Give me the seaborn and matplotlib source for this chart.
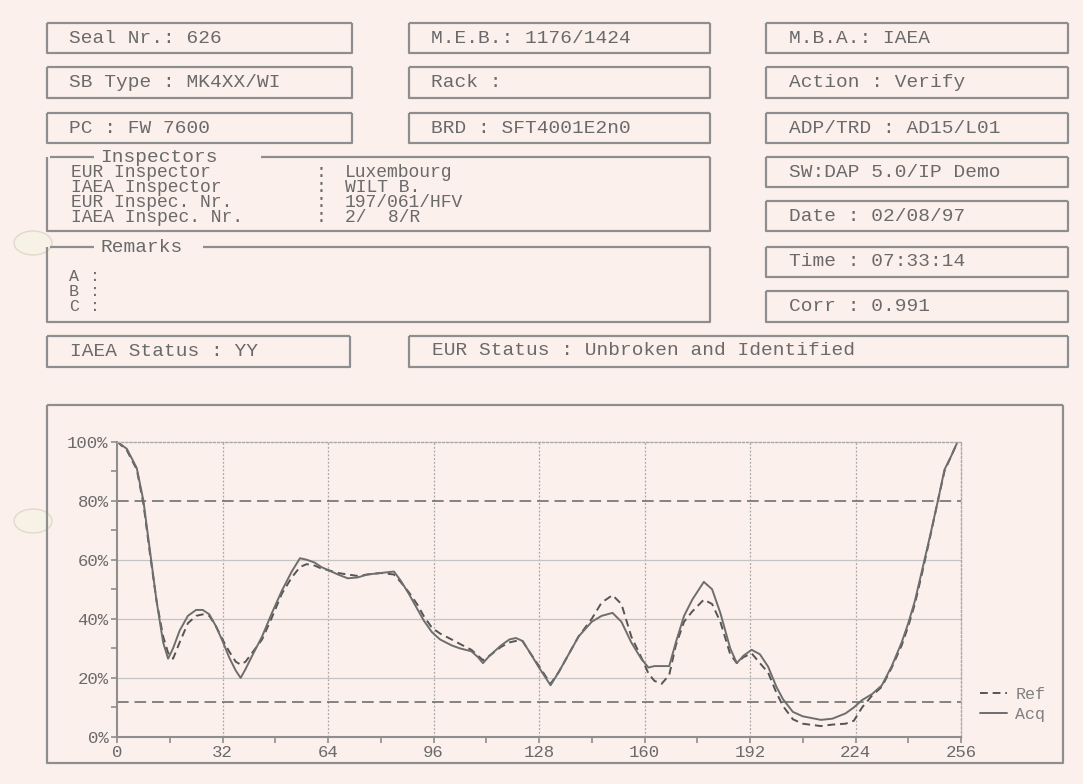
import pandas as pd
import seaborn as sns
import matplotlib.pyplot as plt
from matplotlib.patches import Ellipse
from matplotlib.ticker import MultipleLocator, FuncFormatter

# header fields of the seal report
row_left = ["Seal Nr.: 626", "SB Type : MK4XX/WI", "PC : FW 7600"]
row_mid = ["M.E.B.: 1176/1424", "Rack :", "BRD : SFT4001E2n0"]
row_right = ["M.B.A.: IAEA", "Action : Verify", "ADP/TRD : AD15/L01",
             "SW:DAP 5.0/IP Demo", "Date : 02/08/97", "Time : 07:33:14", "Corr : 0.991"]
inspector_keys = ["EUR Inspector", "IAEA Inspector", "EUR Inspec. Nr.", "IAEA Inspec. Nr."]
inspector_vals = ["Luxembourg", "WILT B.", "197/061/HFV", "2/  8/R"]
remark_keys = ["A", "B", "C"]
iaea_status = "IAEA Status : YY"
eur_status = "EUR Status : Unbroken and Identified"

# signature profile
pos = [0, 3, 6, 8, 10, 12, 14, 15.5, 17, 19, 21.5, 24, 26, 28, 30, 32, 34, 36, 37.5,
       39, 41, 44, 47, 50, 53, 55.5, 57.5, 60, 62, 64, 67, 70, 73, 76, 80, 84, 86,
       88.5, 91, 93, 95.5, 98, 101.5, 104, 107.5, 109.5, 111, 113, 116.5, 119, 121,
       123, 125, 128, 131.5, 134, 137, 140, 144, 147, 150.3, 153, 156, 159, 161.2,
       163, 165.2, 167.5, 169.5, 172, 174.5, 178, 180.5, 183, 186, 188, 190, 192.5,
       195, 197.5, 200, 202, 205, 208, 213.5, 217, 221, 223.5, 226, 229, 232, 235,
       238, 240, 242, 244, 246.5, 249, 251, 253, 255]
acq = [100, 97.5, 91, 80, 63, 46, 32, 26.5, 30, 36, 41, 43, 43, 41.5, 37.5, 32.5, 27,
       22.5, 20, 23, 27.5, 34, 42, 49.5, 56, 60.5, 60, 59, 57.5, 56.5, 55, 53.7, 54,
       55, 55.5, 56, 53, 48.5, 43.5, 39.5, 35.5, 33, 31, 30, 29, 27, 25, 27.5, 31, 33,
       33.5, 32.5, 29, 23.5, 17.5, 22, 28, 34, 39, 41, 42, 39, 32, 26.5, 23.5, 24, 24,
       24, 32, 41, 46.5, 52.5, 50, 42, 30, 25, 27.5, 29.5, 28, 23.8, 17, 12.8, 8.5, 7,
       5.8, 6.2, 8, 10, 12.5, 14.5, 17.5, 24, 32, 38.5, 46, 55.5, 67.5, 80, 90.5, 95,
       100]
ref = [100, 97, 90.5, 79, 62, 46, 34, 28.5, 26.5, 32, 38.5, 41, 41.5, 41, 37.5, 33,
       29, 25.5, 24.5, 25.5, 28.5, 33, 40.5, 48.5, 54, 57.5, 58.5, 58, 57, 56.5, 55.5,
       55, 54.5, 55, 55.5, 55, 52.5, 49, 45, 41, 37, 35, 33, 31.5, 29.5, 27.5, 26,
       27.5, 30.5, 32, 32.5, 32.5, 29, 24, 18, 22, 28, 34, 40, 45.5, 48, 45, 34, 27,
       21.5, 19, 18, 21, 31, 39, 42.5, 46.5, 45, 39, 28, 25, 27, 28.3, 25, 21.8, 15,
       10.5, 6, 4.5, 3.7, 4.2, 4.5, 5.5, 10, 14, 17, 23.5, 31, 37.5, 45, 54.5, 67, 80,
       90, 95, 100]
upper_limit = 80
lower_limit = 12
x_ticks = [0, 32, 64, 96, 128, 160, 192, 224, 256]
y_ticks = [0, 20, 40, 60, 80, 100]

paper = "#fcf0ed"
ink = "#6a6a6a"
frame = "#8e8e8e"
mono = "Liberation Mono"
fs = 14

sns.set_style("white")
plt.rcParams["font.family"] = [mono, "DejaVu Sans Mono"]

fig = plt.figure(figsize=(10.83, 7.84), dpi=100, facecolor=paper)

# page overlay in pixel coordinates
bg = fig.add_axes([0, 0, 1, 1], zorder=0)
bg.set_xlim(0, 1083)
bg.set_ylim(784, 0)
bg.axis("off")
bg.patch.set_alpha(0)


def box(x0, y0, x1, y1, title=None, tx0=None, tx1=None):
    kw = dict(color=frame, lw=1.6, solid_capstyle="butt")
    if title is None:
        bg.plot([x0, x1], [y0, y0], **kw)
    else:
        bg.plot([x0 + 3, tx0 - 6], [y0, y0], **kw)
        bg.plot([tx1 + 6, x1], [y0, y0], **kw)
        bg.text(tx0, y0, title, fontsize=fs, color=ink, va="center", ha="left")
    bg.plot([x1, x1, x0, x0], [y0, y1, y1, y0], **kw)


def field(x, y, s, size=fs):
    bg.text(x, y, s, fontsize=size, color=ink, va="center", ha="left")


rows = [(23, 53), (67, 98), (113, 143)]
for (y0, y1), a, b, c in zip(rows, row_left, row_mid, row_right):
    box(47, y0, 352, y1)
    box(409, y0, 710, y1)
    box(766, y0, 1068, y1)
    yc = (y0 + y1) / 2
    field(69, yc, a)
    field(431, yc, b)
    field(789, yc, c)

right_rows = [(157, 187), (201, 231), (247, 277), (291, 322)]
for (y0, y1), s in zip(right_rows, row_right[3:]):
    box(766, y0, 1068, y1)
    field(789, (y0 + y1) / 2, s)

box(47, 157, 710, 231, "Inspectors", 100, 255)
for i, (k, v) in enumerate(zip(inspector_keys, inspector_vals)):
    yy = 172 + i * 15
    field(71, yy, k, 13)
    field(316, yy, ":", 13)
    field(345, yy, v, 13)

box(47, 247, 710, 322, "Remarks", 100, 197)
for i, k in enumerate(remark_keys):
    yy = 276 + i * 15
    field(69, yy, k, 12)
    field(90, yy, ":", 12)

box(47, 336, 350, 367)
field(70, 351, iaea_status)
box(409, 336, 1068, 367)
field(432, 350, eur_status)

# chart frame
box(47, 405, 1063, 763)

# punch holes from the scan
for yh in (243, 521):
    bg.add_patch(Ellipse((33, yh), 38, 24, facecolor="#f7f2e6", edgecolor="#e0d9cc", lw=1))

# the profile chart
ax = fig.add_axes([117 / 1083, 1 - 737 / 784, 844 / 1083, 295.5 / 784], zorder=2)
ax.patch.set_alpha(0)

n = len(pos)
df = pd.DataFrame({
    "pos": pos + pos,
    "value": acq + ref,
    "series": ["Acq"] * n + ["Ref"] * n,
})

sns.lineplot(data=df, x="pos", y="value", hue="series", style="series",
             hue_order=["Ref", "Acq"], style_order=["Ref", "Acq"],
             palette={"Ref": "#555555", "Acq": "#6e6e6e"},
             dashes={"Ref": (4, 2.5), "Acq": ""}, linewidth=1.4,
             sort=False, ax=ax)

ax.set_xlim(0, 256)
ax.set_ylim(0, 100)

# grid, limits
for xv in x_ticks[1:-1]:
    ax.axvline(xv, color="#a8a8a8", lw=0.9, ls=(0, (1.5, 1.5)), zorder=0)
for yv in [20, 40, 60]:
    ax.axhline(yv, color="#c4c4c4", lw=0.9, zorder=0)
ax.axhline(upper_limit, color="#707070", lw=1.2, ls=(0, (7, 3.5)), zorder=1)
ax.axhline(lower_limit, color="#707070", lw=1.2, ls=(0, (7, 3.5)), zorder=1)

for side in ["left", "bottom"]:
    ax.spines[side].set_color(frame)
    ax.spines[side].set_linewidth(1.5)
for side in ["top", "right"]:
    ax.spines[side].set_color("#a8a8a8")
    ax.spines[side].set_linewidth(1.0)
    ax.spines[side].set_linestyle((0, (1.5, 1.5)))

ax.set_xticks(x_ticks)
ax.set_yticks(y_ticks)
ax.xaxis.set_minor_locator(MultipleLocator(16))
ax.yaxis.set_minor_locator(MultipleLocator(10))
ax.yaxis.set_major_formatter(FuncFormatter(lambda v, p: f"{int(v)}%"))
ax.tick_params(which="both", direction="out", color=frame, width=1.2,
               labelsize=12.5, labelcolor=ink, left=True, bottom=True)
ax.tick_params(which="major", length=4, pad=2)
ax.tick_params(which="minor", length=4)
ax.set_xlabel("")
ax.set_ylabel("")

ax.legend(title=None, frameon=False, loc="lower left", bbox_to_anchor=(1.005, 0.0),
          handlelength=1.6, handletextpad=0.5, labelspacing=0.3,
          fontsize=12, labelcolor="#808080")

fig.savefig("out.png", dpi=100, facecolor=paper)
